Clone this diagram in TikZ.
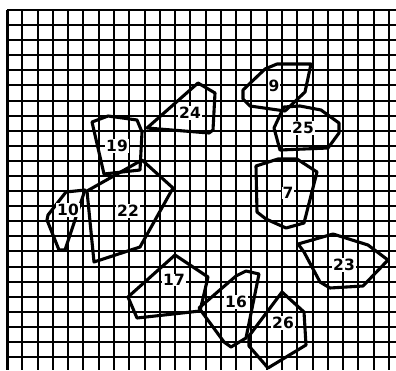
\documentclass[tikz,border=0pt]{standalone}
\usepackage{fontspec}
\setmainfont{DejaVu Sans}
\begin{document}
\begin{tikzpicture}[x=1pt,y=-1pt,
  gridline/.style={line width=2pt,black},
  region/.style={line width=3.1pt,black,line join=round},
  lbl/.style={fill=white,inner sep=0.8pt,font=\fontsize{15.5}{16}\selectfont\bfseries}]
\useasboundingbox (0,0) rectangle (396,370);
% grid
\foreach \i in {0,...,25} \draw[gridline] ({7+15.28*\i},10) -- ({7+15.28*\i},370);
\foreach \j in {0,...,23} \draw[gridline] (7,{10+15.09*\j}) -- (396,{10+15.09*\j});
\draw[line width=3pt] (7,10) -- (7,370);
% regions
\draw[region] (243,90) -- (265,69) -- (277,64) -- (311,64) -- (305,92) -- (285,111) -- (250,106) -- (243,99) -- cycle; % 9
\draw[region] (284,107) -- (300,106) -- (321,110) -- (339,123) -- (339,133) -- (328,148) -- (280,150) -- (274,128) -- (281,113) -- cycle; % 25
\draw[region] (147,128) -- (198,83) -- (215,93) -- (213,130) -- (209,133) -- cycle; % 24
\draw[region] (92,122) -- (108,116) -- (137,120) -- (142,132) -- (140,170) -- (104,174) -- cycle; % 19
\draw[region] (87,191) -- (142,160) -- (173,188) -- (140,247) -- (94,262) -- cycle; % 22
\draw[region] (66,192) -- (85,190) -- (65,250) -- (59,250) -- (47,220) -- (48,215) -- cycle; % 10
\draw[region] (256,166) -- (278,159) -- (297,159) -- (317,172) -- (304,223) -- (286,228) -- (266,219) -- (257,212) -- cycle; % 7
\draw[region] (298,244) -- (333,234) -- (368,245) -- (388,260) -- (363,286) -- (330,288) -- (320,282) -- (304,252) -- cycle; % 23
\draw[region] (175,255) -- (208,277) -- (200,311) -- (137,318) -- (128,297) -- cycle; % 17
\draw[region] (236,276) -- (246,271) -- (259,274) -- (246,338) -- (231,347) -- (224,342) -- (199,308) -- cycle; % 16
\draw[region] (282,292) -- (304,312) -- (306,345) -- (268,368) -- (249,346) -- (249,336) -- cycle; % 26
% labels
\node[lbl] (l9) at (274,86) {9};
\node[lbl] (l24) at (190,113) {24};
\node[lbl] (l25) at (303,128) {25};
\node[lbl] (l19) at (117,146) {19};
\node[lbl] (l7) at (288,193) {7};
\node[lbl] (l10) at (68,210) {10};
\node[lbl] (l22) at (128,211) {22};
\node[lbl] (l17) at (174,280) {17};
\node[lbl] (l23) at (344,265) {23};
\node[lbl] (l16) at (236,302) {16};
\node[lbl] (l26) at (283,323) {26};
\end{tikzpicture}
\end{document}
